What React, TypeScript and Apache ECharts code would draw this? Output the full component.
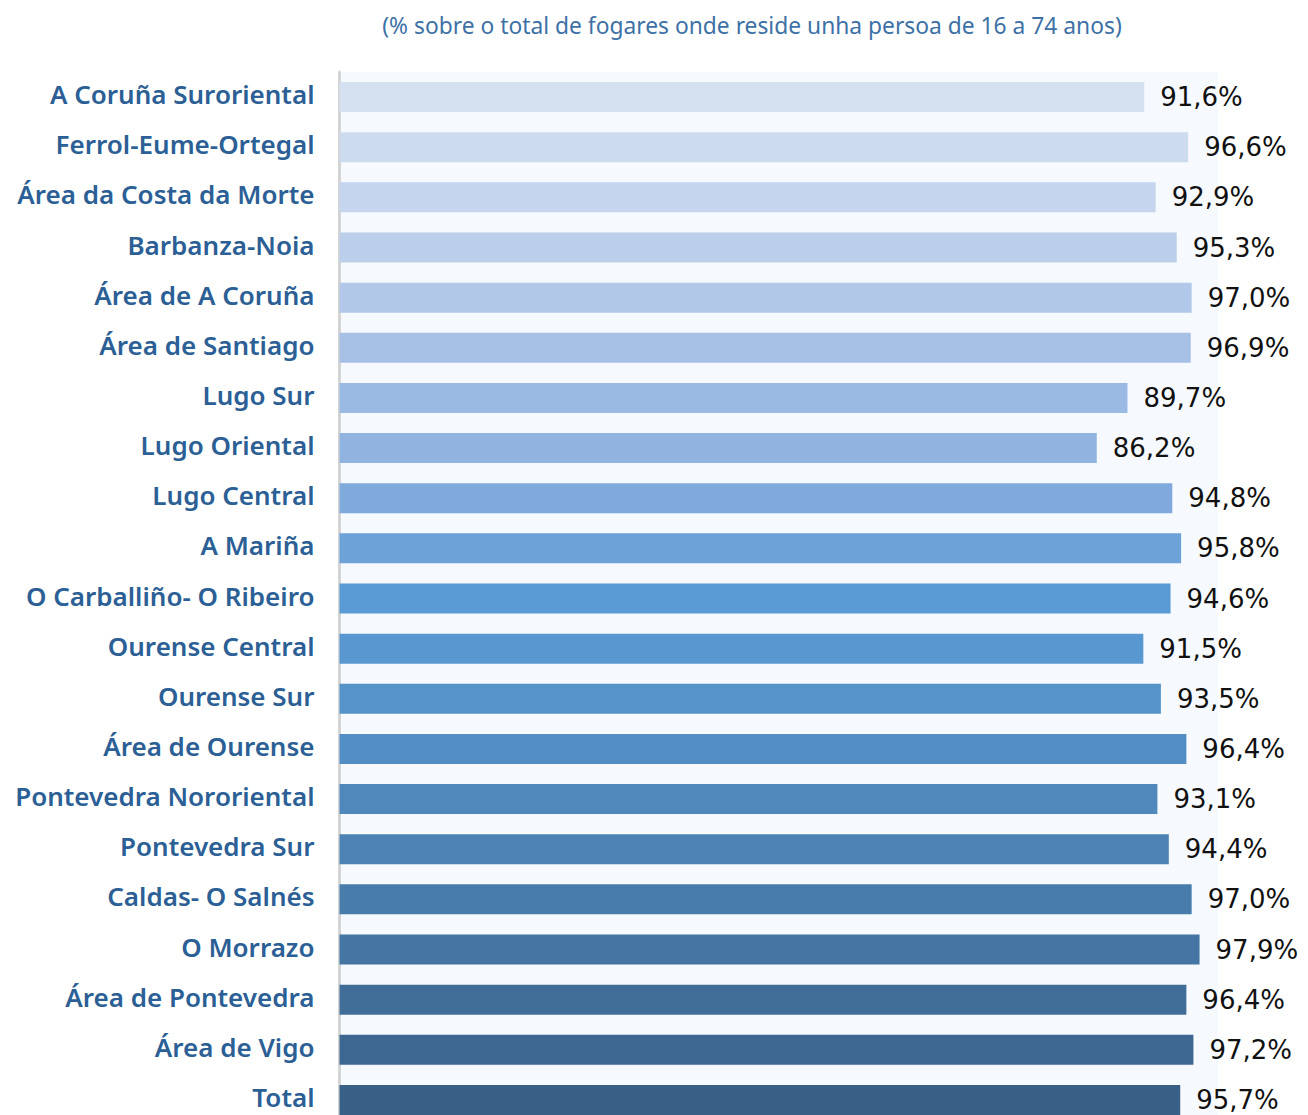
import React, { useEffect, useRef } from "react";
import * as echarts from "echarts";

const subtitle = "(% sobre o total de fogares onde reside unha persoa de 16 a 74 anos)";

const categories = [
  "A Coruña Suroriental",
  "Ferrol-Eume-Ortegal",
  "Área da Costa da Morte",
  "Barbanza-Noia",
  "Área de A Coruña",
  "Área de Santiago",
  "Lugo Sur",
  "Lugo Oriental",
  "Lugo Central",
  "A Mariña",
  "O Carballiño- O Ribeiro",
  "Ourense Central",
  "Ourense Sur",
  "Área de Ourense",
  "Pontevedra Nororiental",
  "Pontevedra Sur",
  "Caldas- O Salnés",
  "O Morrazo",
  "Área de Pontevedra",
  "Área de Vigo",
  "Total",
];

const values = [
  91.6, 96.6, 92.9, 95.3, 97.0, 96.9, 89.7, 86.2, 94.8, 95.8, 94.6, 91.5, 93.5,
  96.4, 93.1, 94.4, 97.0, 97.9, 96.4, 97.2, 95.7,
];

const barColors = [
  "#d5e1f1", "#cddbef", "#c4d5ed", "#bbcfea", "#b1c8e8", "#a7c1e6", "#9bbae3",
  "#90b3e0", "#80aadc", "#6da2d8", "#5b9bd5", "#5897cf", "#5593c9", "#528ec3",
  "#4f89bc", "#4c83b4", "#487cab", "#4575a2", "#416e99", "#3d6790", "#385f86",
];

export default function App() {
  const ref = useRef<HTMLDivElement>(null);
  useEffect(() => {
    if (!ref.current) return;
    const chart = echarts.init(ref.current, null, { renderer: "svg" });
    chart.setOption({
      animation: false,
      backgroundColor: "#ffffff",
      graphic: [
        {
          type: "text",
          x: 752,
          y: 25,
          style: {
            text: subtitle,
            fill: "#3d71a6",
            font: "normal 22.8px 'Noto Sans'",
            textAlign: "center",
            textVerticalAlign: "middle",
          },
        },
      ],
      grid: {
        left: 339.5,
        top: 72,
        width: 878.5,
        height: 1053,
        show: true,
        backgroundColor: "#f6f9fd",
        borderWidth: 0,
        containLabel: false,
      },
      xAxis: {
        type: "value",
        min: 0,
        max: 100,
        show: false,
      },
      yAxis: {
        type: "category",
        data: categories,
        inverse: true,
        axisLine: { show: true, lineStyle: { color: "#d4d4d4", width: 3 } },
        axisTick: { show: false },
        axisLabel: {
          margin: 25,
          color: "#2b5f95",
          fontFamily: "Noto Sans",
          fontWeight: 600,
          fontSize: 26,
          verticalAlign: "bottom",
          lineHeight: 6,
        },
        splitLine: { show: false },
      },
      series: [
        {
          type: "bar",
          barWidth: 30,
          data: values.map((v, i) => ({
            value: v,
            itemStyle: { color: barColors[i] },
          })),
          label: {
            show: true,
            position: "right",
            distance: 16,
            color: "#111111",
            fontFamily: "DejaVu Sans",
            fontWeight: "normal",
            fontSize: 26,
            lineHeight: 22,
            formatter: (p: any) => p.value.toFixed(1).replace(".", ",") + "%",
          },
        },
      ],
    });
    return () => chart.dispose();
  }, []);
  return (
    <div
      style={{
        position: "absolute",
        left: 0,
        top: 0,
        width: 1308,
        height: 1115,
        overflow: "hidden",
      }}
    >
      <div ref={ref} style={{ width: 1308, height: 1130 }} />
    </div>
  );
}
